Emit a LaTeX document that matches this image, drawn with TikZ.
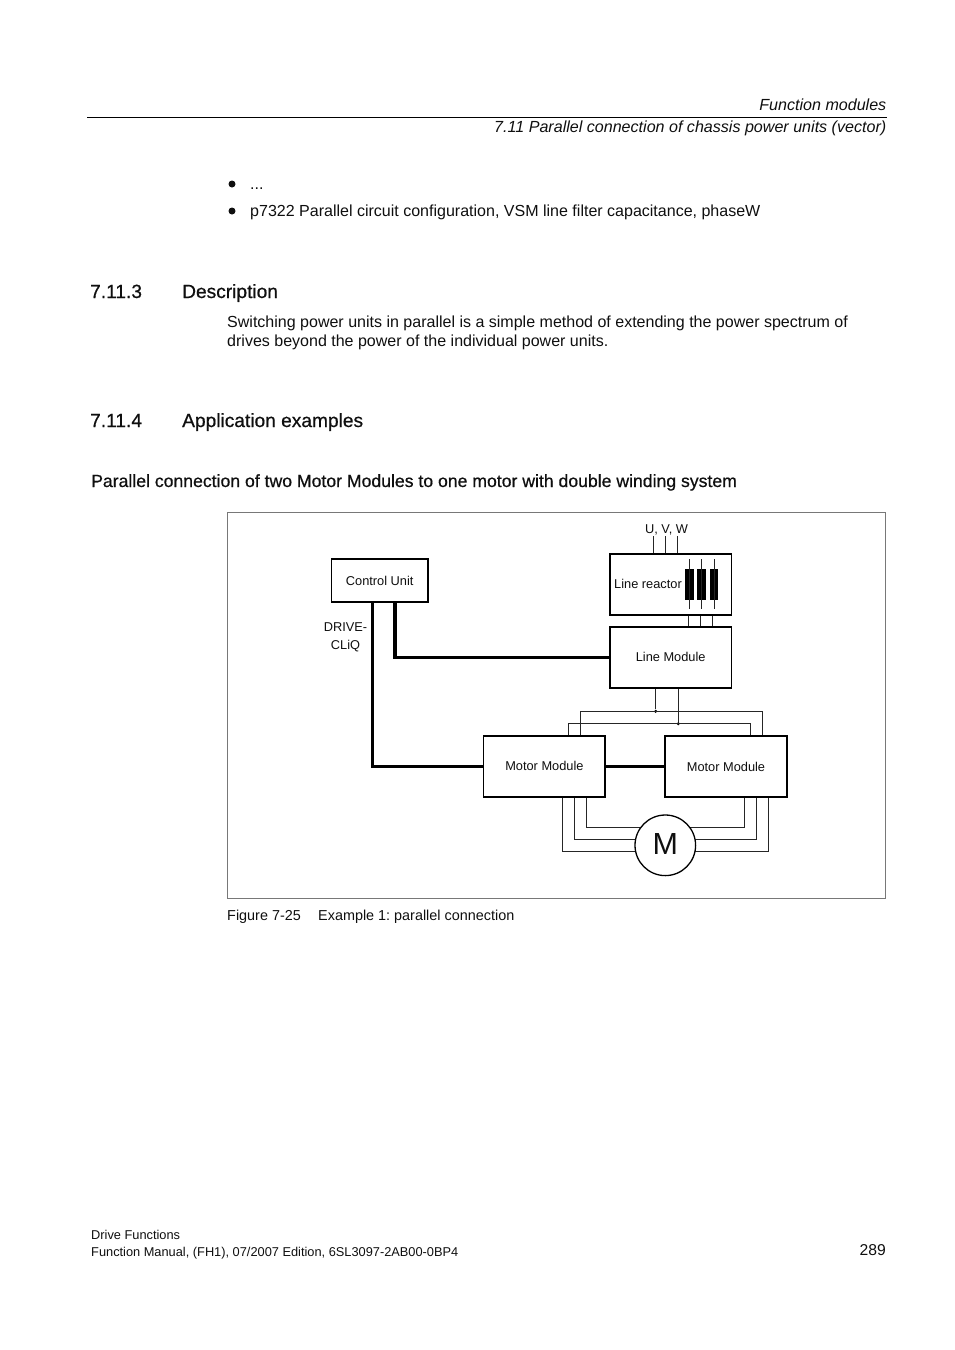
\documentclass[tikz,border=0pt]{standalone}
\usepackage{fontspec}
\setmainfont{Liberation Sans}
\newfontfamily\headfont[FakeBold=0.6]{Liberation Sans}
\usepackage{tikz}
\usetikzlibrary{positioning,backgrounds}
\definecolor{framecolor}{RGB}{120,120,120}
\definecolor{labelcolor}{RGB}{15,15,15}
\tikzset{
pagetext/.style={
  anchor=base west,
  inner sep=0pt,
  font=\frenchspacing\fontsize{16.02}{19}\selectfont,
  text=labelcolor
},
righttext/.style={
  pagetext,
  anchor=base east,
  font=\frenchspacing\fontsize{16.08}{19}\selectfont\itshape
},
headtext/.style={
  pagetext,
  font=\headfont\fontsize{19.15}{22}\selectfont
},
subheadtext/.style={
  pagetext,
  font=\headfont\frenchspacing\fontsize{17.63}{20}\selectfont
},
captext/.style={
  pagetext,
  font=\frenchspacing\fontsize{14.4}{17}\selectfont
},
foottext/.style={
  pagetext,
  font=\frenchspacing\fontsize{12.8}{15}\selectfont
},
smalltext/.style={
  inner sep=0pt,
  font=\fontsize{12.8}{15}\selectfont,
  text=labelcolor
},
unitblock/.style={
  draw=black,
  line width=1.6pt,
  fill=white,
  inner sep=0pt,
  smalltext
},
thinline/.style={
  draw=black!85,
  line width=1pt
},
busline/.style={
  draw=black,
  line width=3.4pt
},
choke/.style={
  fill=black,
  inner sep=0pt,
  minimum width=8.7pt,
  minimum height=31pt
},
listdot/.style={
  circle,
  fill=labelcolor,
  inner sep=0pt,
  minimum size=7pt
},
junction/.style={
  circle,
  fill=black,
  inner sep=0pt,
  minimum size=3.4pt
}
}
\begin{document}
\begin{tikzpicture}[x=1pt,y=-1pt]
      \useasboundingbox (0,0) rectangle (954,1350);

      % Page header
      \node[righttext] (hdra) at (886.5,110) {Function modules};
      \node[righttext] (hdrb) at (886.5,132) {7.11 Parallel connection of chassis power units (vector)};
      \coordinate (rulea) at (87,117.7);
      \coordinate (ruleb) at (887,117.7);
      \draw[line width=0.9pt, black] (rulea) -- (ruleb);

      % Page text
      \node[listdot] (bula) at (232,184) {};
      \node[pagetext] (txta) at (250,189.6) {...};
      \node[listdot] (bulb) at (232,211) {};
      \node[pagetext] (txtb) at (250,216.6) {p7322 Parallel circuit configuration, VSM line filter capacitance, phaseW};
      \node[headtext] (numa) at (90,298) {7.11.3};
      \node[headtext] (heada) at (182,298) {Description};
      \node[pagetext] (bodya) at (227,327) {Switching power units in parallel is a simple method of extending the power spectrum of};
      \node[pagetext] (bodyb) at (227,346) {drives beyond the power of the individual power units.};
      \node[headtext] (numb) at (90,427) {7.11.4};
      \node[headtext] (headb) at (182,427) {Application examples};
      \node[subheadtext] (subhead) at (91,487) {Parallel connection of two Motor Modules to one motor with double winding system};

      % Figure frame
      \node[draw=framecolor, line width=0.9pt, inner sep=0pt, minimum width=658pt, minimum height=386pt] (frame) at (556.5,705.5) {};
      \node[captext] (figno) at (227,920) {Figure 7-25};
      \node[captext] (figcap) at (318,920) {Example 1: parallel connection};

      % Footer
      \node[foottext] (foota) at (91,1239) {Drive Functions};
      \node[foottext] (footb) at (91,1256) {Function Manual, (FH1), 07/2007 Edition, 6SL3097-2AB00-0BP4};
      \node[righttext, font=\fontsize{15.7}{18}\selectfont] (pageno) at (886,1255) {289};

      % Blocks
      \node[unitblock, minimum width=96.5pt, minimum height=43pt] (cu) at (379.7,580.5) {Control Unit};
      \node[unitblock, minimum width=121.6pt, minimum height=61pt] (reactor) at (670.7,584.5) {};
      \node[smalltext, anchor=base west] (reactortext) at (614,588) {Line reactor};
      \node[unitblock, minimum width=121.6pt, minimum height=61pt] (lm) at (670.7,657.5) {\raisebox{1pt}{Line Module}\hspace{2pt}};
      \node[unitblock, minimum width=121.5pt, minimum height=61pt] (mma) at (544.4,766.5) {\raisebox{1pt}{Motor Module}\hspace{2pt}};
      \node[unitblock, minimum width=122pt, minimum height=61pt] (mmb) at (726,766.5) {Motor Module\hspace{1.5pt}};
      \node[circle, draw=black, line width=1.3pt, fill=white, inner sep=0pt, minimum size=60.6pt, font=\fontsize{30.5}{31}\selectfont, text=labelcolor] (motor) at (665.3,845.3) {\raisebox{2pt}{M}};

      % Labels
      \node[smalltext] (uvw) at (666.5,529.5) {U, V, W};
      \node[smalltext] (dcla) at (345.5,627) {DRIVE-};
      \node[smalltext] (dclb) at (345.5,646.5) {CLiQ};

      % Supply
      \foreach \nm/\xx in {ua/653.3,ub/665.2,uc/677.3} {
        \coordinate (\nm) at (\xx,536);
        \draw[thinline] (\nm) -- (\nm |- reactor.north);
      }

      % Reactor coils
      \foreach \nm/\xx in {cha/689.4,chb/701.5,chc/714} {
        \node[choke] (\nm) at (\xx,584.5) {};
        \coordinate (\nm top) at (\xx,559);
        \coordinate (\nm bot) at (\xx,609);
        \draw[thinline] (\nm top) -- (\nm bot);
      }

      % Reactor to Line Module
      \foreach \nm/\xx in {ra/688.7,rb/700.7,rc/712.4} {
        \coordinate (\nm) at (\xx,620);
        \draw[thinline] (\nm |- reactor.south) -- (\nm |- lm.north);
      }

      % DC link
      \node[junction] (ja) at (655.7,711.3) {};
      \node[junction] (jb) at (678.3,723.7) {};
      \draw[thinline] (ja |- lm.south) -- (ja);
      \draw[thinline] (jb |- lm.south) -- (jb);
      \coordinate (bal) at (580.7,711.3);
      \coordinate (bar) at (762.7,711.3);
      \coordinate (bbl) at (568.7,723.7);
      \coordinate (bbr) at (750.7,723.7);
      \draw[thinline] (bal |- mma.north) -- (bal) -- (bar) -- (bar |- mmb.north);
      \draw[thinline] (bbl |- mma.north) -- (bbl) -- (bbr) -- (bbr |- mmb.north);

      % Motor cables
      \begin{scope}[on background layer]
      \foreach \nm/\xa/\xb/\yy in {ca/586.7/744.3/827,cb/574.7/756.3/839.3,cc/562.3/768.3/851.3} {
        \coordinate (\nm l) at (\xa,\yy);
        \coordinate (\nm r) at (\xb,\yy);
        \draw[thinline] (\nm l |- mma.south) -- (\nm l) -- (\nm r) -- (\nm r |- mmb.south);
      }
      \end{scope}

      % DRIVE-CLiQ
      \coordinate (dqa) at (372.7,766.7);
      \coordinate (dqb) at (395,657.7);
      \draw[busline] (dqa |- cu.south) -- (dqa) -- (dqa -| mma.west);
      \draw[busline] (dqb |- cu.south) -- (dqb) -- (dqb -| lm.west);
      \draw[busline] (mma.east) -- (mmb.west);
    \end{tikzpicture}
\end{document}
